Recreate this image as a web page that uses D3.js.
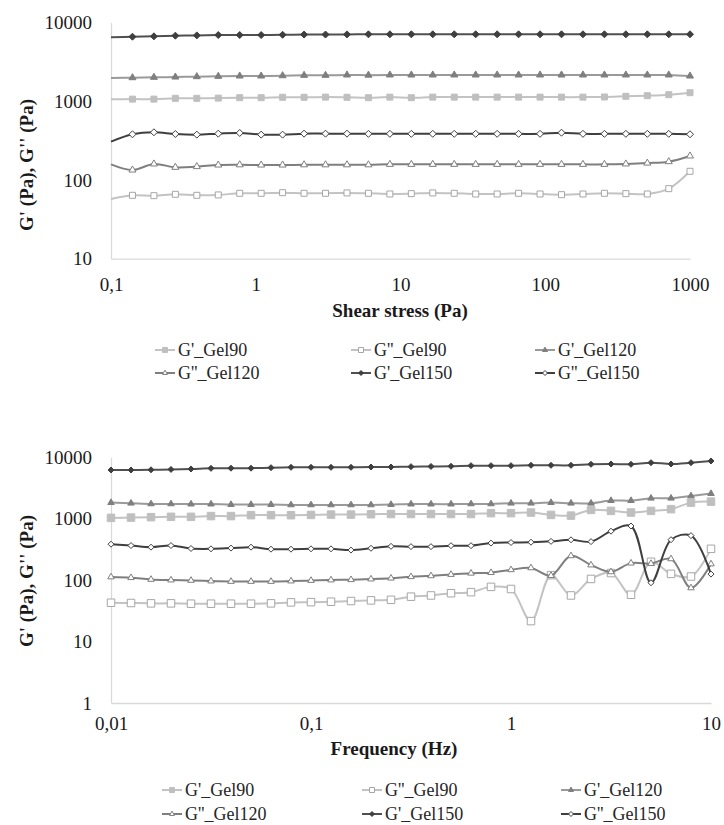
<!DOCTYPE html>
<html>
<head>
<meta charset="utf-8">
<script src="https://cdn.jsdelivr.net/npm/d3@7"></script>
<style>
  body { margin: 0; background: #fff; }
</style>
</head>
<body>
<div id="chart"></div>
<script>
// ---- data ----
const seriesNames = ["G'_Gel90", "G''_Gel90", "G'_Gel120", "G''_Gel120", "G'_Gel150", "G''_Gel150"]

// top panel: stress sweep
const stress = [0.1, 0.1407, 0.1979, 0.2784, 0.3916, 0.5509, 0.7749, 1.09, 1.533, 2.157, 3.034, 4.268, 6.004, 8.446,
  11.88, 16.71, 23.51, 33.07, 46.52, 65.44, 92.06, 129.5, 182.2, 256.3, 360.5, 507.1, 713.4, 1000]
const stressGp90 = [1060, 1066, 1066, 1091, 1091, 1098, 1111, 1111, 1125, 1125, 1130, 1125, 1111, 1130,
  1111, 1130, 1130, 1130, 1130, 1130, 1130, 1130, 1130, 1135, 1157, 1178, 1213, 1286]
const stressGpp90 = [57.4, 63.9, 63.2, 65.8, 63.9, 64.6, 67.8, 67.8, 69, 67.8, 67.8, 68.5, 67.8, 66.4,
  67.1, 68.5, 67.8, 66.4, 66.4, 67.8, 66.4, 65.1, 66.4, 67.8, 67.1, 66.4, 77.6, 129]
const stressGp120 = [1977, 1995, 2018, 2035, 2056, 2075, 2096, 2096, 2115, 2138, 2138, 2160, 2150, 2160,
  2160, 2160, 2160, 2160, 2160, 2160, 2160, 2160, 2160, 2160, 2160, 2160, 2160, 2096]
const stressGpp120 = [158, 134, 160, 145, 148, 155, 156, 155, 155, 156, 156, 156, 156, 158,
  158, 158, 158, 158, 158, 158, 158, 158, 158, 158, 160, 164, 171, 202]
const stressGp150 = [6500, 6620, 6690, 6820, 6880, 6950, 6950, 6950, 7000, 7050, 7050, 7080, 7100, 7100,
  7100, 7100, 7100, 7100, 7100, 7100, 7100, 7100, 7100, 7100, 7100, 7100, 7100, 7100]
const stressGpp150 = [307, 381, 404, 384, 377, 388, 396, 377, 377, 388, 388, 388, 386, 386,
  386, 386, 386, 386, 386, 386, 386, 399, 386, 386, 386, 386, 386, 381]

// bottom panel: frequency sweep
const freq = [0.01, 0.01259, 0.01585, 0.01995, 0.02512, 0.03162, 0.03981, 0.05012, 0.0631, 0.07943,
  0.1, 0.1259, 0.1585, 0.1995, 0.2512, 0.3162, 0.3981, 0.5012, 0.631, 0.7943,
  1, 1.259, 1.585, 1.995, 2.512, 3.162, 3.981, 5.012, 6.31, 7.943, 10]
const freqGp90 = [1038, 1050, 1065, 1080, 1080, 1110, 1110, 1150, 1150, 1148, 1160, 1175, 1175, 1190, 1200,
  1200, 1200, 1200, 1200, 1240, 1240, 1270, 1160, 1130, 1400, 1350, 1270, 1350, 1440, 1840, 1910]
const freqGpp90 = [43, 42.6, 42, 42, 41.5, 41.5, 41.5, 41.5, 42, 43.6, 44, 44.7, 45.9, 47, 48,
  54, 56.5, 61.5, 64, 78, 72, 21.6, 121, 56.5, 105, 131, 58, 200, 127, 115, 325]
const freqGp120 = [1840, 1800, 1754, 1754, 1740, 1740, 1710, 1710, 1710, 1690, 1690, 1690, 1690, 1690, 1710,
  1740, 1740, 1740, 1754, 1754, 1800, 1800, 1840, 1800, 1800, 1985, 1985, 2170, 2170, 2365, 2580]
const freqGpp120 = [113, 110, 103, 100.7, 99.3, 97, 95.5, 95.5, 95.5, 97, 99, 101, 102, 104.5, 108,
  114, 118, 124, 130, 133, 148, 159, 119, 250, 177, 137, 190, 187, 223, 75, 184]
const freqGp150 = [6260, 6260, 6300, 6400, 6500, 6650, 6700, 6700, 6830, 6920, 6920, 6920, 6920, 7000, 7000,
  7100, 7150, 7200, 7360, 7360, 7360, 7460, 7460, 7460, 7750, 7840, 7750, 8240, 7840, 8240, 8770]
const freqGpp150 = [387, 368, 346, 368, 329, 325, 334, 346, 321, 321, 325, 325, 310, 332, 357,
  353, 353, 366, 366, 403, 412, 417, 430, 456, 426, 630, 765, 91, 458, 534, 126]

const yTicks = [1, 10, 100, 1000, 10000]

// ---- look ----
const looks = [
  { line: '#c3c3c3', fill: '#bfbfbf', stroke: '#bfbfbf', shape: 'square' },
  { line: '#c3c3c3', fill: '#ffffff', stroke: '#a6a6a6', shape: 'square' },
  { line: '#9a9a9a', fill: '#7f7f7f', stroke: '#7f7f7f', shape: 'triangle' },
  { line: '#7f7f7f', fill: '#ffffff', stroke: '#7f7f7f', shape: 'triangle' },
  { line: '#505050', fill: '#3f3f3f', stroke: '#3f3f3f', shape: 'diamond' },
  { line: '#3f3f3f', fill: '#ffffff', stroke: '#404040', shape: 'diamond' }
]

const diamondType = {
  draw(ctx, size) {
    const r = Math.sqrt(size) / 2
    ctx.moveTo(0, -r)
    ctx.lineTo(r, 0)
    ctx.lineTo(0, r)
    ctx.lineTo(-r, 0)
    ctx.closePath()
  }
}

function markerPath(shape, px) {
  if (shape === 'square') return d3.symbol(d3.symbolSquare, px * px)()
  if (shape === 'triangle') return d3.symbol(d3.symbolTriangle, Math.sqrt(3) / 4 * px * px)()
  return d3.symbol(diamondType, px * px)()
}

const commaFormat = d => String(d).replace('.', ',')

const svg = d3
  .select('#chart')
  .append('svg')
  .attr('width', 724)
  .attr('height', 825)

svg.append('rect').attr('width', 724).attr('height', 825).attr('fill', '#fff')

function drawPanel(p) {
  const g = svg.append('g')

  const x = d3.scaleLog().domain(p.xDomain).range([p.left, p.right])
  const y = d3.scaleLog().domain(p.yDomain).range([p.bottom, p.top])

  // axes
  const yAxis = g.append('g')
    .attr('transform', 'translate(' + p.left + ',0)')
    .call(d3.axisLeft(y).tickValues(yTicks.filter(t => t >= p.yDomain[0])).tickFormat(commaFormat)
      .tickSize(0).tickPadding(19))
  const xAxis = g.append('g')
    .attr('transform', 'translate(0,' + p.bottom + ')')
    .call(d3.axisBottom(x).tickValues(p.xTicks).tickFormat(commaFormat).tickSize(0).tickPadding(p.xPad))

  ;[yAxis, xAxis].forEach(a => {
    a.attr('font-family', null).attr('font-size', null)
    a.select('.domain').attr('stroke', '#d9d9d9').attr('stroke-width', 1.3)
    a.selectAll('text')
      .attr('fill', '#1a1a1a')
      .style('font-family', '"Liberation Serif", serif')
      .style('font-size', '19px')
  })

  // titles
  g.append('text')
    .attr('x', p.xTitle[0]).attr('y', p.xTitle[1])
    .attr('text-anchor', 'middle')
    .style('font-family', '"Liberation Serif", serif')
    .style('font-weight', 'bold')
    .style('font-size', '19px')
    .attr('fill', '#1a1a1a')
    .text(p.xLabel)
  g.append('text')
    .attr('transform', 'translate(' + p.yTitle[0] + ',' + p.yTitle[1] + ') rotate(-90)')
    .attr('text-anchor', 'middle')
    .style('font-family', '"Liberation Serif", serif')
    .style('font-weight', 'bold')
    .style('font-size', '19px')
    .attr('fill', '#1a1a1a')
    .text("G' (Pa), G'' (Pa)")

  const line = d3.line()
    .x(d => x(d.x))
    .y(d => y(d.y))
    .curve(d3.curveCatmullRom.alpha(0.5))

  p.series.forEach((vals, i) => {
    const look = looks[i]
    const pts = vals.map((v, k) => ({ x: p.xs[k], y: v }))
    g.append('path')
      .datum(pts)
      .attr('d', line)
      .attr('fill', 'none')
      .attr('stroke', look.line)
      .attr('stroke-width', 2)

    g.selectAll('.m' + i)
      .data(pts.filter((d, k) => k > 0 || p.firstMarker))
      .enter()
      .append('path')
      .attr('transform', d => 'translate(' + x(d.x) + ',' + y(d.y) + ')')
      .attr('d', markerPath(look.shape, p.markerSize[look.shape]))
      .attr('fill', look.fill)
      .attr('stroke', look.stroke)
      .attr('stroke-width', 1)
  })

  // legend, 3 columns x 2 rows
  seriesNames.forEach((name, i) => {
    const look = looks[i]
    const lx = p.legendCols[i % 3]
    const ly = p.legendRows[Math.floor(i / 3)]
    const lg = g.append('g').attr('transform', 'translate(' + lx + ',' + ly + ')')
    lg.append('line')
      .attr('x1', 0).attr('x2', 20)
      .attr('stroke', look.line).attr('stroke-width', 2)
    lg.append('path')
      .attr('transform', 'translate(10,0)')
      .attr('d', markerPath(look.shape, 5))
      .attr('fill', look.fill)
      .attr('stroke', look.stroke)
    lg.append('text')
      .attr('x', 23).attr('dy', '0.35em')
      .style('font-family', '"Liberation Serif", serif')
      .style('font-size', '18px')
      .attr('fill', '#262626')
      .text(name)
  })
}

drawPanel({
  xDomain: [0.1, 1000], yDomain: [10, 10000],
  left: 111, right: 690, top: 22.6, bottom: 258.7,
  xTicks: [0.1, 1, 10, 100, 1000], xPad: 19,
  xs: stress,
  series: [stressGp90, stressGpp90, stressGp120, stressGpp120, stressGp150, stressGpp150],
  firstMarker: false,
  markerSize: { square: 6, triangle: 7, diamond: 7 },
  xLabel: 'Shear stress (Pa)', xTitle: [400, 317], yTitle: [33, 165],
  legendCols: [155, 351, 535], legendRows: [350, 373]
})

drawPanel({
  xDomain: [0.01, 10], yDomain: [1, 10000],
  left: 111, right: 711, top: 457.5, bottom: 703,
  xTicks: [0.01, 0.1, 1, 10], xPad: 14,
  xs: freq,
  series: [freqGp90, freqGpp90, freqGp120, freqGpp120, freqGp150, freqGpp150],
  firstMarker: true,
  markerSize: { square: 7.5, triangle: 6.5, diamond: 6 },
  xLabel: 'Frequency (Hz)', xTitle: [394, 755], yTitle: [33, 581],
  legendCols: [162, 362, 561], legendRows: [790, 814]
})
</script>
</body>
</html>
